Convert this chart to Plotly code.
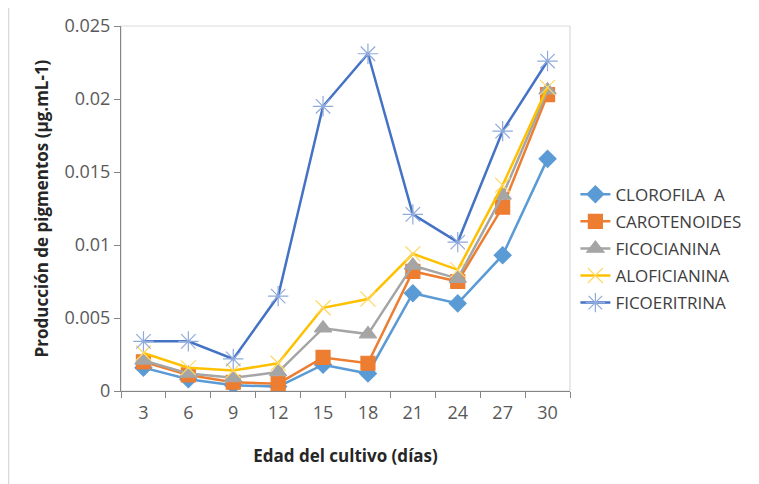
import plotly.graph_objects as go

dias = ["3", "6", "9", "12", "15", "18", "21", "24", "27", "30"]
clorofila = [0.0016, 0.0008, 0.0004, 0.0003, 0.0018, 0.0012, 0.0067, 0.0060, 0.0093, 0.0159]
carotenoides = [0.0020, 0.0011, 0.0006, 0.0005, 0.0023, 0.0019, 0.0082, 0.0075, 0.0126, 0.0203]
ficocianina = [0.0021, 0.0012, 0.0009, 0.0013, 0.0043, 0.0039, 0.0086, 0.0077, 0.0134, 0.0206]
aloficianina = [0.0026, 0.0016, 0.0014, 0.0019, 0.0057, 0.0063, 0.0094, 0.0083, 0.0141, 0.0208]
ficoeritrina = [0.0034, 0.0034, 0.0022, 0.0065, 0.0195, 0.0231, 0.0121, 0.0102, 0.0178, 0.0226]

FONT = "Open Sans"

series = [
    ("CLOROFILA  A", clorofila, "#5B9BD5", "diamond", 13, "#5B9BD5"),
    ("CAROTENOIDES", carotenoides, "#ED7D31", "square", 14, "#ED7D31"),
    ("FICOCIANINA", ficocianina, "#A5A5A5", "triangle-up", 15, "#A5A5A5"),
    ("ALOFICIANINA", aloficianina, "#FFC000", "x-thin-open", 15, "#FFD966"),
    ("FICOERITRINA", ficoeritrina, "#4472C4", "asterisk-open", 17, "#8FAADC"),
]

fig = go.Figure()
for i, (name, vals, lc, sym, sz, mc) in enumerate(series):
    fig.add_trace(go.Scatter(
        x=dias, y=vals, name=name, mode="lines+markers",
        legendgroup=f"g{i}",
        line=dict(color=lc, width=2.5),
        marker=dict(symbol=sym, size=sz, color=mc,
                    line=dict(color=mc, width=1.2)),
    ))

# page body has an 8px margin, so the figure is 8px smaller each way
fig.update_layout(
    width=751, height=476,
    margin=dict(l=113, r=189, t=18, b=93),
    paper_bgcolor="white", plot_bgcolor="white",
    font=dict(family=FONT, size=17, color="#595959"),
    showlegend=True,
    legend=dict(x=1.012, y=0.39, xanchor="left", yanchor="middle",
                traceorder="grouped", tracegroupgap=2,
                font=dict(family=FONT, size=17, color="#404040"),
                bgcolor="rgba(0,0,0,0)"),
    xaxis=dict(
        type="category", range=[-0.5, len(dias) - 0.5],
        showgrid=False, zeroline=False, automargin=False,
        showline=True, linecolor="#868686", linewidth=1.2,
        ticks="outside", tickson="boundaries", ticklen=6, tickcolor="#868686",
        ticklabelstandoff=5,
        tickfont=dict(family=FONT, size=18, color="#595959"),
        title=dict(text="<b>Edad del cultivo (días)</b>", standoff=27,
                   font=dict(family=FONT, size=17, color="#262626")),
    ),
    yaxis=dict(
        range=[0, 0.025], dtick=0.005, tick0=0, showgrid=False, zeroline=False,
        automargin=False,
        showline=True, linecolor="#868686", linewidth=1.2,
        ticks="outside", ticklen=6, tickcolor="#868686",
        tickformat="~g",
        tickfont=dict(family=FONT, size=18, color="#595959"),
        title=dict(text="<b>Producción de pigmentos (µg.mL-1)</b>", standoff=11,
                   font=dict(family=FONT, size=17, color="#262626")),
    ),
    shapes=[
        dict(type="rect", xref="x domain", yref="y domain", x0=0, x1=1, y0=0, y1=1,
             line=dict(color="#D9D9D9", width=1.2), layer="below"),
        dict(type="rect", xref="paper", yref="paper", x0=-0.2506, x1=2.0, y0=-2.0, y1=1.0575,
             line=dict(color="#D9D9D9", width=1.5), layer="below"),
    ],
)

fig.write_html("out.html")
